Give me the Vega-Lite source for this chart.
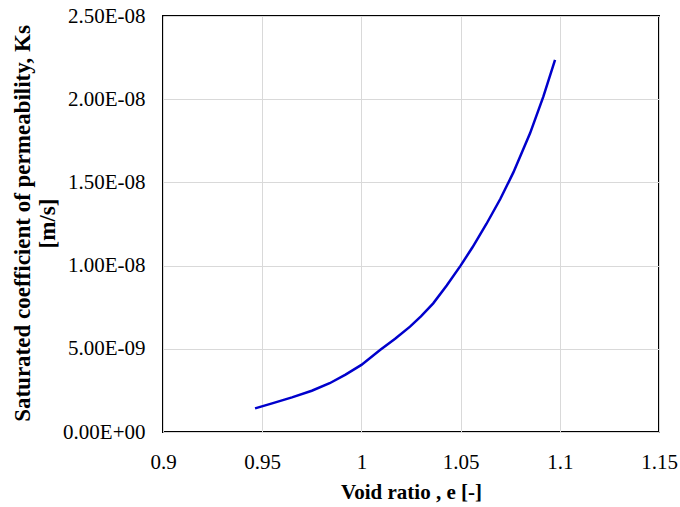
{
  "$schema": "https://vega.github.io/schema/vega-lite/v6.json",
  "width": 496,
  "height": 416,
  "autosize": {"type": "none"},
  "padding": {"left": 163, "top": 16, "right": 21, "bottom": 75},
  "background": "white",
  "config": {
    "view": {"stroke": "black", "strokeWidth": 2},
    "font": "Liberation Serif"
  },
  "data": {
    "values": [
      {"e": 0.9464, "ks": 1.42e-9},
      {"e": 0.955, "ks": 1.72e-9},
      {"e": 0.965, "ks": 2.08e-9},
      {"e": 0.975, "ks": 2.48e-9},
      {"e": 0.984, "ks": 2.93e-9},
      {"e": 0.992, "ks": 3.45e-9},
      {"e": 1.0, "ks": 4.03e-9},
      {"e": 1.0094, "ks": 4.93e-9},
      {"e": 1.017, "ks": 5.6e-9},
      {"e": 1.0245, "ks": 6.33e-9},
      {"e": 1.03, "ks": 6.95e-9},
      {"e": 1.0362, "ks": 7.73e-9},
      {"e": 1.043, "ks": 8.8e-9},
      {"e": 1.05, "ks": 1.0e-8},
      {"e": 1.056, "ks": 1.11e-8},
      {"e": 1.063, "ks": 1.25e-8},
      {"e": 1.07, "ks": 1.4e-8},
      {"e": 1.0766, "ks": 1.56e-8},
      {"e": 1.085, "ks": 1.795e-8},
      {"e": 1.0917, "ks": 2.015e-8},
      {"e": 1.0976, "ks": 2.236e-8}
    ]
  },
  "mark": {"type": "line", "color": "#0000cc", "strokeWidth": 2.5},
  "encoding": {
    "x": {
      "field": "e",
      "type": "quantitative",
      "scale": {"domain": [0.9, 1.15], "nice": false, "zero": false},
      "axis": {
        "values": [0.9, 0.95, 1.0, 1.05, 1.1, 1.15],
        "labelExpr": "format(datum.value, '~g')",
        "title": "Void ratio , e [-]",
        "domain": false,
        "ticks": false,
        "grid": true,
        "gridColor": "#d9d9d9",
        "gridWidth": 1,
        "gridOpacity": 1,
        "labelFont": "Liberation Serif",
        "labelFontSize": 21,
        "labelColor": "black",
        "labelPadding": 19,
        "labelFlush": false,
        "labelOverlap": false,
        "titleFont": "Liberation Serif",
        "titleFontSize": 21,
        "titleFontWeight": "bold",
        "titleColor": "black",
        "titleBaseline": "alphabetic",
        "titleX": 248,
        "titleY": 66
      }
    },
    "y": {
      "field": "ks",
      "type": "quantitative",
      "scale": {"domain": [0, 2.5e-8], "nice": false},
      "axis": {
        "values": [0, 5e-9, 1e-8, 1.5e-8, 2e-8, 2.5e-8],
        "labelExpr": "datum.value == 0 ? '0.00E+00' : (datum.value < 9.9e-9 ? format(datum.value * 1e9, '.2f') + 'E-09' : format(datum.value * 1e8, '.2f') + 'E-08')",
        "title": ["Saturated  coefficient of permeability, Ks", "[m/s]"],
        "domain": false,
        "ticks": false,
        "grid": true,
        "gridColor": "#d9d9d9",
        "gridWidth": 1,
        "gridOpacity": 1,
        "labelFont": "Liberation Serif",
        "labelFontSize": 21,
        "labelColor": "black",
        "labelPadding": 18,
        "labelBaseline": "middle",
        "labelFlush": false,
        "labelOverlap": false,
        "titleFont": "Liberation Serif",
        "titleFontSize": 23,
        "titleFontWeight": "bold",
        "titleColor": "black",
        "titleAngle": -90,
        "titleAlign": "center",
        "titleBaseline": "alphabetic",
        "titleLineHeight": 25,
        "titleX": -134,
        "titleY": 207
      }
    }
  }
}
